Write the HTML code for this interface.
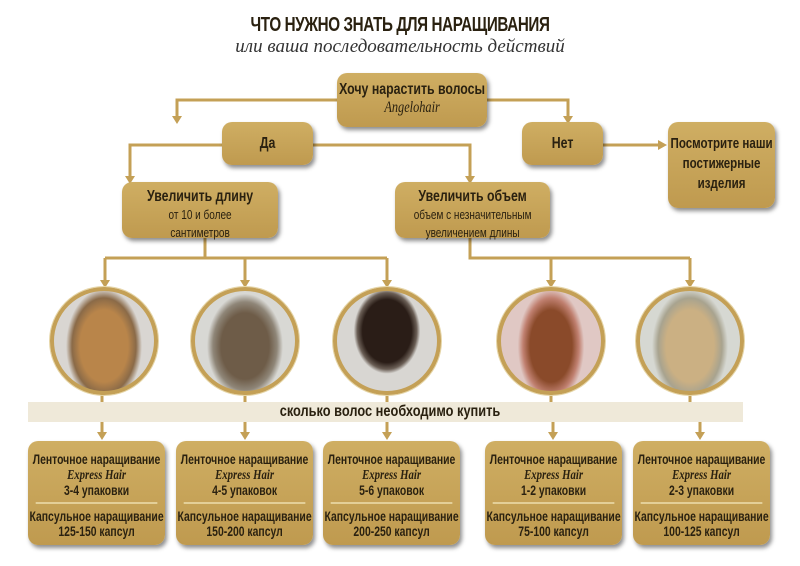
<!DOCTYPE html>
<html><head><meta charset="utf-8"><style>
body{margin:0;width:800px;height:566px;background:#fff;position:relative;overflow:hidden;font-family:"Liberation Sans",sans-serif;color:#2a2110}
.b{position:absolute;background:linear-gradient(#cfae63,#bf9a4f);border-radius:10px;box-shadow:2px 3px 4px rgba(0,0,0,.45);text-align:center;font-weight:bold;box-sizing:border-box}
.in{width:130%;transform:scaleX(.77);transform-origin:0 0;white-space:nowrap}
.t{position:absolute;left:0;width:800px;text-align:center}
.c{position:absolute;width:100px;height:100px;border-radius:50%;border:4px solid #c4a056;box-shadow:0 0 0 1px #e6d6a8}
.bb{top:441px;width:137px;height:104px;font-size:13.5px;line-height:15px;padding-top:11px}
.bb i{font-family:"Liberation Serif",serif;font-size:14px}
.bb hr{border:0;border-top:2px solid #e3cf98;margin:4px 10px 5px}
.s{font-weight:normal;font-size:13px;line-height:14px}
</style></head><body>
<div class="t" style="top:14px;font-size:20px;font-weight:bold;letter-spacing:-0.5px;transform:scaleX(0.76)">ЧТО НУЖНО ЗНАТЬ ДЛЯ НАРАЩИВАНИЯ</div>
<div class="t" style="top:36px;font-family:'Liberation Serif',serif;font-style:italic;font-size:19px;color:#333">или ваша последовательность действий</div>

<svg width="800" height="566" style="position:absolute;left:0;top:0">
<g stroke="#c4a056" stroke-width="3" fill="none">
<path d="M337 100H177V120M487 100H568V120M222 145H130V180M313 145H470V180M603 145H660"/>
<path d="M205 238V258M105 258H387M105 258V282M245 258V282M387 258V282"/>
<path d="M470 238V258H690M551 258V282M690 258V282"/>
<path d="M102 392V402M245 392V402M387 392V402M551 392V402M690 392V402"/>
<path d="M102 422V436M245 422V436M387 422V436M553 422V436M700 422V436"/>
</g>
<g fill="#c4a056">
<path d="M172 116h10l-5 8zM563 116h10l-5 8zM125 176h10l-5 8zM465 176h10l-5 8zM658 140v10l9-5z"/>
<path d="M100 280h10l-5 8zM240 280h10l-5 8zM382 280h10l-5 8zM546 280h10l-5 8zM685 280h10l-5 8z"/>
<path d="M97 432h10l-5 8zM240 432h10l-5 8zM382 432h10l-5 8zM548 432h10l-5 8zM695 432h10l-5 8z"/>
</g></svg>

<div class="b" style="left:337px;top:73px;width:150px;height:54px;font-size:16px;padding-top:8px"><div class="in">Хочу нарастить волосы<br><i style="font-family:'Liberation Serif',serif;font-weight:normal">Angelohair</i></div></div>
<div class="b" style="left:222px;top:122px;width:91px;height:43px;font-size:16px;line-height:43px"><div class="in">Да</div></div>
<div class="b" style="left:522px;top:122px;width:81px;height:43px;font-size:16px;line-height:43px"><div class="in">Нет</div></div>
<div class="b" style="left:668px;top:122px;width:107px;height:86px;font-size:15px;line-height:20px;padding-top:12px"><div class="in">Посмотрите наши<br>постижерные<br>изделия</div></div>
<div class="b" style="left:122px;top:182px;width:156px;height:56px;font-size:16px;padding-top:6px"><div class="in">Увеличить длину<br><span class="s">от 10 и более<br>сантиметров</span></div></div>
<div class="b" style="left:395px;top:182px;width:155px;height:56px;font-size:16px;padding-top:6px"><div class="in">Увеличить объем<br><span class="s">объем с незначительным<br>увеличением длины</span></div></div>

<div class="c" style="left:50px;top:287px;background:radial-gradient(ellipse 40% 60% at 50% 55%,#b9854a 60%,#8a6a48 80%,#d9d6d2 95%)"></div>
<div class="c" style="left:191px;top:287px;background:radial-gradient(ellipse 40% 55% at 50% 55%,#6e5c48 60%,#8f8678 80%,#d8d8d4 95%)"></div>
<div class="c" style="left:333px;top:287px;background:radial-gradient(ellipse 35% 45% at 50% 40%,#2a1d17 70%,#6a5e55 85%,#d8d6d2 95%)"></div>
<div class="c" style="left:497px;top:287px;background:radial-gradient(ellipse 35% 60% at 50% 55%,#8a4a2a 60%,#c08070 80%,#e0c8c4 95%)"></div>
<div class="c" style="left:636px;top:287px;background:radial-gradient(ellipse 40% 60% at 50% 55%,#cbb083 60%,#a8a38f 80%,#d6d8d2 95%)"></div>

<div style="position:absolute;left:28px;top:402px;width:715px;height:20px;background:#efe9d9"></div>
<div class="t" style="top:403px;font-size:16px;font-weight:bold;left:-10px;transform:scaleX(.8)">сколько волос необходимо купить</div>

<div class="b bb" style="left:28px"><div class="in">Ленточное наращивание<br><i>Express Hair</i><br>3-4 упаковки<hr>Капсульное наращивание<br>125-150 капсул</div></div>
<div class="b bb" style="left:176px"><div class="in">Ленточное наращивание<br><i>Express Hair</i><br>4-5 упаковок<hr>Капсульное наращивание<br>150-200 капсул</div></div>
<div class="b bb" style="left:323px"><div class="in">Ленточное наращивание<br><i>Express Hair</i><br>5-6 упаковок<hr>Капсульное наращивание<br>200-250 капсул</div></div>
<div class="b bb" style="left:485px"><div class="in">Ленточное наращивание<br><i>Express Hair</i><br>1-2 упаковки<hr>Капсульное наращивание<br>75-100 капсул</div></div>
<div class="b bb" style="left:633px"><div class="in">Ленточное наращивание<br><i>Express Hair</i><br>2-3 упаковки<hr>Капсульное наращивание<br>100-125 капсул</div></div>
</body></html>
